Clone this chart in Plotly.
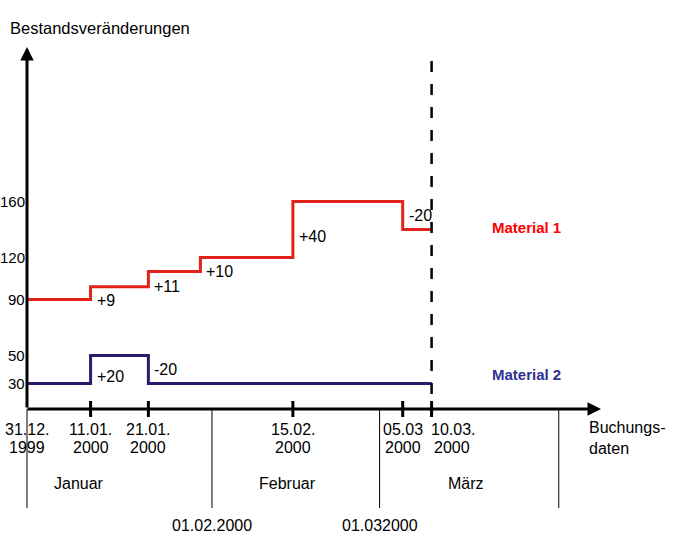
import plotly.graph_objects as go
import pandas as pd
import numpy as np

# ---------------- data ----------------
start_date = "1999-12-31"
end_date = "2000-03-10"

mat1_name = "Material 1"
mat1_start = 90
mat1_dates = ["2000-01-11", "2000-01-21", "2000-01-30", "2000-02-15", "2000-03-05"]
mat1_changes = [9, 11, 10, 40, -20]

mat2_name = "Material 2"
mat2_start = 30
mat2_dates = ["2000-01-11", "2000-01-21"]
mat2_changes = [20, -20]

ytick_vals = [30, 50, 90, 120, 160]

tick_dates = ["1999-12-31", "2000-01-11", "2000-01-21", "2000-02-15", "2000-03-05", "2000-03-10"]
tick_day_labels = ["31.12.", "11.01.", "21.01.", "15.02.", "05.03", "10.03."]
tick_year_labels = ["1999", "2000", "2000", "2000", "2000", "2000"]

month_bounds = ["1999-12-31", "2000-02-01", "2000-03-01", "2000-04-01"]
month_names = ["Januar", "Februar", "März"]
month_label_dates = ["2000-01-09", "2000-02-14", "2000-03-16"]
bound_label_dates = ["2000-02-01", "2000-03-01"]
bound_labels = ["01.02.2000", "01.032000"]

y_title = "Bestandsveränderungen"
x_title = "Buchungs-<br>daten"

# ---------------- layout constants ----------------
W, H = 690, 552
L, R, T, B = 24, 90, 48, 144
PW, PH = W - L - R, H - T - B
X0_PX = 27          # pixel of start date (y axis)
PX_PER_DAY = 5.78
Y30_PX = 383.4      # pixel of value 30
PX_PER_UNIT = 1.40

FONT = "Liberation Sans, Arial, sans-serif"
BLACK = "#000000"
RED_LINE = "#E2231A"
RED_TEXT = "#FF0000"
BLUE_LINE = "#2B1A6E"
BLUE_TEXT = "#2E3192"

t0 = pd.Timestamp(start_date)
x_lo = t0 - pd.Timedelta(days=(X0_PX - L) / PX_PER_DAY)
x_hi = t0 + pd.Timedelta(days=(L + PW - X0_PX) / PX_PER_DAY)
y_lo = 30 - (T + PH - Y30_PX) / PX_PER_UNIT
y_hi = y_lo + PH / PX_PER_UNIT


def py(p):
    """pixel y -> paper y"""
    return (T + PH - p) / PH


def px(p):
    """pixel x -> paper x"""
    return (p - L) / PW


def steps(start, dates, changes):
    levels = list(start + np.cumsum(changes))
    xs = [start_date] + dates + [end_date]
    ys = [start] + levels + [levels[-1]]
    return xs, ys, [start] + levels


fig = go.Figure()

m1x, m1y, m1lv = steps(mat1_start, mat1_dates, mat1_changes)
m2x, m2y, m2lv = steps(mat2_start, mat2_dates, mat2_changes)

fig.add_trace(go.Scatter(x=m1x, y=m1y, mode="lines", line=dict(color=RED_LINE, width=3, shape="hv"),
                         showlegend=False, hoverinfo="skip"))
fig.add_trace(go.Scatter(x=m2x, y=m2y, mode="lines", line=dict(color=BLUE_LINE, width=3, shape="hv"),
                         showlegend=False, hoverinfo="skip"))

annotations = []
shapes = []

# y tick labels
for v in ytick_vals:
    annotations.append(dict(x=start_date, y=v, xref="x", yref="y", text=str(v), showarrow=False,
                            xanchor="right", yanchor="middle", xshift=0,
                            font=dict(family=FONT, size=15, color=BLACK)))

# step labels
for dates, changes, lv in [(mat1_dates, mat1_changes, m1lv), (mat2_dates, mat2_changes, m2lv)]:
    for i, (d, c) in enumerate(zip(dates, changes)):
        mid = (lv[i] + lv[i + 1]) / 2
        annotations.append(dict(x=d, y=mid, xref="x", yref="y", text=f"{c:+d}", showarrow=False,
                                xanchor="left", yanchor="top" if c > 0 else "middle", xshift=4,
                                yshift=3 if c > 0 else 0,
                                font=dict(family=FONT, size=16, color=BLACK)))

# material labels
annotations.append(dict(x=end_date, y=m1lv[-1], xref="x", yref="y", text=f"<b>{mat1_name}</b>",
                        showarrow=False, xanchor="left", yanchor="middle", xshift=58, yshift=2,
                        font=dict(family=FONT, size=15, color=RED_TEXT)))
annotations.append(dict(x=end_date, y=m2lv[-1], xref="x", yref="y", text=f"<b>{mat2_name}</b>",
                        showarrow=False, xanchor="left", yanchor="middle", xshift=58, yshift=9,
                        font=dict(family=FONT, size=15, color=BLUE_TEXT)))

# axis arrows
annotations.append(dict(x=start_date, y=py(47), xref="x", yref="paper", ax=0, ay=409 - 47,
                        axref="pixel", ayref="pixel", text="", showarrow=True, arrowhead=2,
                        arrowsize=0.9, arrowwidth=3, arrowcolor=BLACK))
annotations.append(dict(x=px(601), y=py(409), xref="paper", yref="paper", ax=-(601 - X0_PX + 1), ay=0,
                        axref="pixel", ayref="pixel", text="", showarrow=True, arrowhead=2,
                        arrowsize=0.9, arrowwidth=3, arrowcolor=BLACK))

# axis titles
annotations.append(dict(x=px(8), y=py(28), xref="paper", yref="paper", text=y_title, showarrow=False,
                        xanchor="left", yanchor="middle", font=dict(family=FONT, size=16.5, color=BLACK)))
annotations.append(dict(x=px(587), y=py(438), xref="paper", yref="paper", text=x_title, showarrow=False,
                        xanchor="left", yanchor="middle", align="left",
                        font=dict(family=FONT, size=16, color=BLACK)))

# x tick labels
for d, dl, yl in zip(tick_dates, tick_day_labels, tick_year_labels):
    anchor = "left" if d == end_date else "center"
    xs = -3 if d == end_date else 0
    annotations.append(dict(x=d, y=py(429), xref="x", yref="paper", text=dl, showarrow=False,
                            xanchor=anchor, yanchor="middle", xshift=xs,
                            font=dict(family=FONT, size=16, color=BLACK)))
    annotations.append(dict(x=d, y=py(447.5), xref="x", yref="paper", text=yl, showarrow=False,
                            xanchor=anchor, yanchor="middle", xshift=xs + (3 if d == end_date else 0),
                            font=dict(family=FONT, size=16, color=BLACK)))

# month labels
for d, name in zip(month_label_dates, month_names):
    annotations.append(dict(x=d, y=py(484), xref="x", yref="paper", text=name, showarrow=False,
                            xanchor="center", yanchor="middle", font=dict(family=FONT, size=16, color=BLACK)))
for d, name in zip(bound_label_dates, bound_labels):
    annotations.append(dict(x=d, y=py(525), xref="x", yref="paper", text=name, showarrow=False,
                            xanchor="center", yanchor="middle", font=dict(family=FONT, size=16, color=BLACK)))

# tick marks on x axis
for d in tick_dates[1:]:
    shapes.append(dict(type="line", xref="x", yref="paper", x0=d, x1=d, y0=py(417), y1=py(401),
                       line=dict(color=BLACK, width=3)))
# month separators
for d in month_bounds:
    shapes.append(dict(type="line", xref="x", yref="paper", x0=d, x1=d, y0=py(409), y1=py(508),
                       line=dict(color=BLACK, width=1)))
# dashed reference line at end date
shapes.append(dict(type="line", xref="x", yref="paper", x0=end_date, x1=end_date, y0=py(417), y1=py(57),
                   line=dict(color=BLACK, width=2.5, dash="11px,12px")))

fig.update_layout(
    width=W, height=H,
    margin=dict(l=L, r=R, t=T, b=B, autoexpand=False),
    paper_bgcolor="white", plot_bgcolor="white",
    showlegend=False,
    annotations=annotations,
    shapes=shapes,
    xaxis=dict(type="date", range=[x_lo.strftime("%Y-%m-%d %H:%M:%S"), x_hi.strftime("%Y-%m-%d %H:%M:%S")],
               showgrid=False, zeroline=False, showline=False, showticklabels=False, ticks=""),
    yaxis=dict(range=[y_lo, y_hi], showgrid=False, zeroline=False, showline=False, ticks="",
               showticklabels=False, automargin=False),
)

fig.write_html("out.html")
